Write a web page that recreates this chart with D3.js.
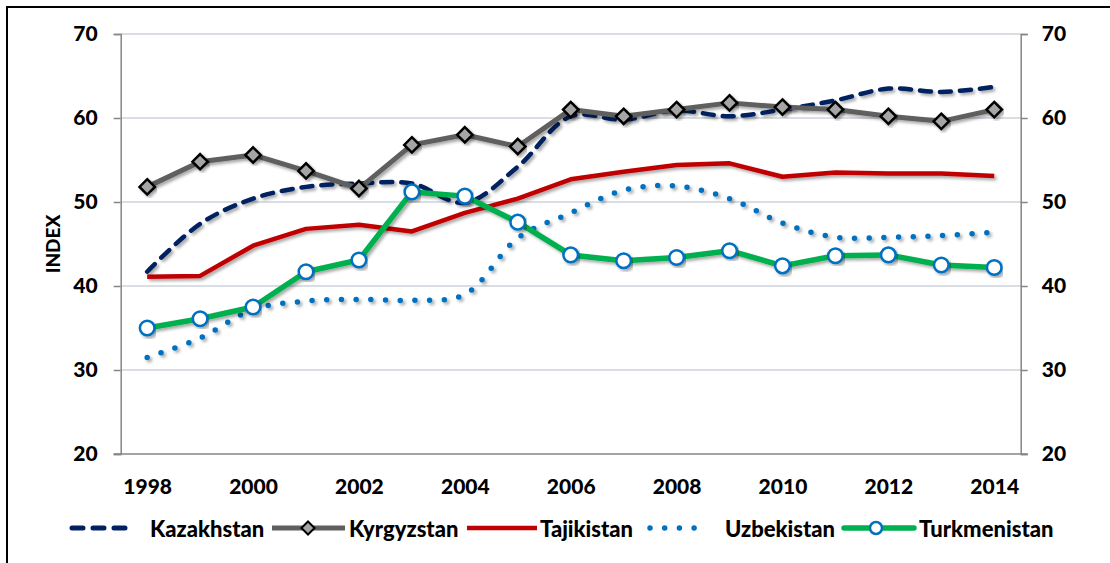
<!DOCTYPE html>
<html>
<head>
<meta charset="utf-8">
<script src="https://cdn.jsdelivr.net/npm/d3@7/dist/d3.min.js"></script>
<style>
  html, body { margin: 0; padding: 0; background: #fff; }
  svg { display: block; }
  text { font-family: Lato, "Open Sans", sans-serif; font-weight: 900; fill: #000; }
</style>
</head>
<body>
<svg id="chart" width="1110" height="563"></svg>
<script>
// ---- data ----
const years = [1998,1999,2000,2001,2002,2003,2004,2005,2006,2007,2008,2009,2010,2011,2012,2013,2014];
const yTicks = [20,30,40,50,60,70];
const xTickLabels = [1998,2000,2002,2004,2006,2008,2010,2012,2014];
const kazakhstan   = [41.7,47.4,50.4,51.8,52.2,52.2,49.9,54.2,60.2,59.8,60.9,60.2,61.0,62.1,63.5,63.1,63.7];
const kyrgyzstan   = [51.8,54.8,55.6,53.7,51.6,56.8,58.0,56.6,61.0,60.2,61.0,61.8,61.3,61.0,60.2,59.6,61.0];
const tajikistan   = [41.1,41.2,44.8,46.8,47.3,46.5,48.7,50.4,52.7,53.6,54.4,54.6,53.0,53.5,53.4,53.4,53.1];
const uzbekistan   = [31.5,33.8,37.2,38.2,38.4,38.3,39.0,45.7,48.7,51.4,51.9,50.4,47.5,45.8,45.8,46.0,46.4];
const turkmenistan = [35.0,36.1,37.5,41.7,43.1,51.2,50.7,47.6,43.7,43.0,43.4,44.2,42.4,43.6,43.7,42.5,42.2];
const seriesNames = ["Kazakhstan","Kyrgyzstan","Tajikistan","Uzbekistan","Turkmenistan"];

(function () {
const svg = d3.select("#chart");
const pL = 120.7, pR = 1020.7, pT = 34, pB = 454;
const FS = "21px";

const x = d3.scalePoint().domain(years).range([pL, pR]).padding(0.5);
const y = d3.scaleLinear().domain([20,70]).range([pB, pT]);

// drop shadow
const defs = svg.append("defs");
const f = defs.append("filter").attr("id","sh").attr("x","-10%").attr("y","-10%").attr("width","120%").attr("height","130%");
f.append("feDropShadow").attr("dx",2.2).attr("dy",2.2).attr("stdDeviation",1.4)
  .attr("flood-color","#000").attr("flood-opacity",0.35);

// frame
svg.append("path").attr("d","M7,563 L7,7 L1110,7").attr("fill","none").attr("stroke","#000").attr("stroke-width",2);

// gridlines
svg.append("g").selectAll("line").data(yTicks.filter(t => t > 20)).join("line")
  .attr("x1", pL).attr("x2", pR)
  .attr("y1", d => y(d)).attr("y2", d => y(d))
  .attr("stroke", "#D9DEE5").attr("stroke-width", 2);

// axes
const axL = svg.append("g").attr("transform", `translate(${pL},0)`)
  .call(d3.axisLeft(y).tickValues(yTicks).tickSize(7).tickPadding(16));
const axR = svg.append("g").attr("transform", `translate(${pR},0)`)
  .call(d3.axisRight(y).tickValues(yTicks).tickSize(7).tickPadding(14));
const axB = svg.append("g").attr("transform", `translate(0,${pB})`)
  .call(d3.axisBottom(x).tickValues(xTickLabels).tickSize(0).tickPadding(24).tickFormat(d3.format("d")));
[axL, axR, axB].forEach(a => {
  a.selectAll("path.domain").attr("stroke", "#868686").attr("stroke-width", 1.5);
  a.selectAll(".tick line").attr("stroke", "#868686").attr("stroke-width", 1.5);
  a.selectAll("text").style("font-size", FS).style("font-family", "Lato, sans-serif").style("font-weight", "900").attr("fill", "#000");
});
axB.select("path.domain").attr("d", `M${pL-7},0H${pR+7}`);
axB.selectAll(".tick text").attr("dy", "0.32em").attr("y", 33);

// axis title
svg.append("text").attr("transform", "translate(52,244) rotate(-90)")
  .attr("text-anchor", "middle").attr("dominant-baseline", "central")
  .style("font-size", "19px").text("INDEX");

// lines
const lineStraight = d3.line().x((d,i) => x(years[i])).y(d => y(d));
const lineSmooth = d3.line().x((d,i) => x(years[i])).y(d => y(d)).curve(d3.curveCatmullRom.alpha(0.5));

const g = svg.append("g");
function drawLine(data, gen, color, width, dash, cap) {
  g.append("path").datum(data).attr("d", gen).attr("fill","none")
    .attr("stroke", color).attr("stroke-width", width)
    .attr("stroke-dasharray", dash || null)
    .attr("stroke-linecap", cap || "butt").attr("stroke-linejoin","round")
    .attr("filter","url(#sh)");
}
drawLine(kazakhstan, lineSmooth, "#002060", 4.5, "11,9", "round");
drawLine(kyrgyzstan, lineStraight, "#5F5F5F", 5);
g.append("g").selectAll("path").data(kyrgyzstan).join("path")
  .attr("d", d3.symbol().type(d3.symbolDiamond2).size(150))
  .attr("transform", (d,i) => `translate(${x(years[i])},${y(d)})`)
  .attr("fill", "#A5A5A5").attr("stroke", "#000").attr("stroke-width", 2.5).attr("filter","url(#sh)");
drawLine(tajikistan, lineStraight, "#C00000", 4.5);
drawLine(uzbekistan, lineSmooth, "#0070C0", 5.5, "0,14.7", "round");
drawLine(turkmenistan, lineStraight, "#00B050", 5.5);
g.append("g").selectAll("circle").data(turkmenistan).join("circle")
  .attr("cx", (d,i) => x(years[i])).attr("cy", d => y(d)).attr("r", 7.3)
  .attr("fill", "#fff").attr("stroke", "#0070C0").attr("stroke-width", 2.5).attr("filter","url(#sh)");

// legend
const ly = 528;
const leg = svg.append("g");
const legendItems = [
  {name: seriesNames[0], x1: 72, x2: 133, tx: 150},
  {name: seriesNames[1], x1: 272, x2: 345, tx: 349},
  {name: seriesNames[2], x1: 467, x2: 537, tx: 540},
  {name: seriesNames[3], x1: 650, x2: 708, tx: 725},
  {name: seriesNames[4], x1: 844, x2: 914, tx: 919}
];
const styles = [
  {c:"#002060", w:5, dash:"11,10", cap:"round"},
  {c:"#5F5F5F", w:5},
  {c:"#C00000", w:4.5},
  {c:"#0070C0", w:5.5, dash:"0,14.7", cap:"round"},
  {c:"#00B050", w:5.5, cap:"round"}
];
legendItems.forEach((it, i) => {
  const s = styles[i];
  leg.append("line").attr("x1", it.x1).attr("x2", it.x2).attr("y1", ly).attr("y2", ly)
    .attr("stroke", s.c).attr("stroke-width", s.w).attr("stroke-dasharray", s.dash || null)
    .attr("stroke-linecap", s.cap || "butt");
  leg.append("text").attr("x", it.tx).attr("y", ly).attr("dominant-baseline","central")
    .style("font-size", "22px").text(it.name);
});
leg.append("path").attr("d", d3.symbol().type(d3.symbolDiamond2).size(110))
  .attr("transform", `translate(308,${ly})`).attr("fill","#A5A5A5").attr("stroke","#000").attr("stroke-width",2);
leg.append("circle").attr("cx", 876).attr("cy", ly).attr("r", 6)
  .attr("fill","#fff").attr("stroke","#0070C0").attr("stroke-width",2.5);
})();
</script>
</body>
</html>
